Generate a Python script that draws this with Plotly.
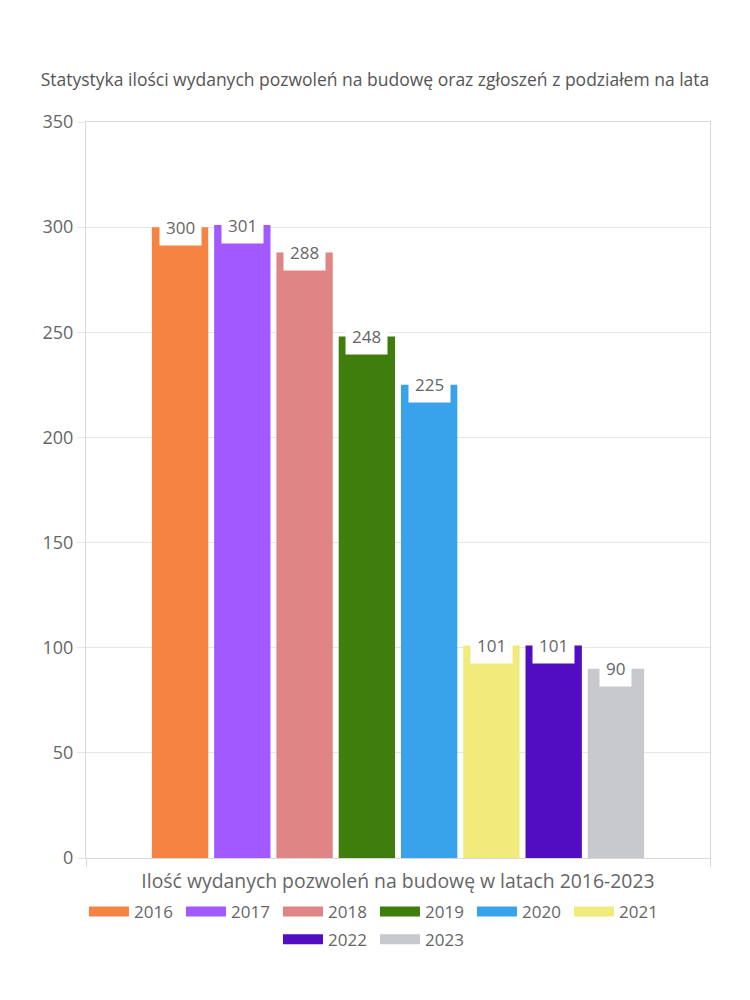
import plotly.graph_objects as go

years = ["2016", "2017", "2018", "2019", "2020", "2021", "2022", "2023"]
values = [300, 301, 288, 248, 225, 101, 101, 90]
colors = ["#F58442", "#A259FF", "#E08585", "#3F7D0C", "#38A3EB", "#F0EB7A", "#520DC2", "#C8C9CD"]
legend_row = ["legend", "legend", "legend", "legend", "legend", "legend", "legend2", "legend2"]
y_ticks = [0, 50, 100, 150, 200, 250, 300, 350]

title_text = "Statystyka ilości wydanych pozwoleń na budowę oraz zgłoszeń z podziałem na lata"
x_title = "Ilość wydanych pozwoleń na budowę w latach 2016-2023"

FONT = "'Open Sans', 'Noto Sans', sans-serif"
TXT = "#666666"

fig = go.Figure()
for i, (yr, v, c, lg) in enumerate(zip(years, values, colors, legend_row)):
    fig.add_trace(go.Bar(
        x=[i], y=[v], name=yr, marker=dict(color=c, line=dict(width=0)),
        width=0.905, hoverinfo="y", showlegend=False, legendgroup=yr,
    ))
    # legend entry drawn as a thick line swatch (wide rectangle like the reference)
    fig.add_trace(go.Scatter(
        x=[None], y=[None], mode="lines", name=yr, legendgroup=yr, legend=lg,
        line=dict(color=c, width=17), hoverinfo="skip",
    ))
    fig.add_annotation(
        x=i, y=v, xref="x", yref="y", text=str(v), showarrow=False,
        yanchor="middle", xanchor="center",
        bgcolor="white", borderpad=6,
        font=dict(family=FONT, size=17, color=TXT),
    )

leg_common = dict(orientation="h", x=0.4631, xanchor="center", yanchor="middle",
                  font=dict(family=FONT, size=17, color=TXT), itemwidth=40,
                  entrywidth=42, traceorder="normal")

fig.update_layout(
    width=750, height=1000,
    margin=dict(l=86, r=40, t=122, b=142),
    paper_bgcolor="white", plot_bgcolor="white",
    font=dict(family=FONT, color=TXT),
    title=dict(text=title_text, x=0.5, xanchor="center", y=0.92, yanchor="middle",
               font=dict(family=FONT, size=17.5, color="#555555")),
    barmode="overlay",
    showlegend=True,
    legend=dict(y=-0.0734, **leg_common),
    legend2=dict(y=-0.111, **leg_common),
)
fig.update_xaxes(
    range=[-1.51, 8.51], showgrid=False, zeroline=False,
    showline=True, linecolor="#d9d9d9", linewidth=1, mirror=True,
    tickvals=[-1.51, 8.51], showticklabels=False, ticks="outside", ticklen=8, tickcolor="#d9d9d9",
    title=dict(text=x_title, font=dict(family=FONT, size=19.4, color=TXT), standoff=8),
)
fig.update_yaxes(
    range=[0, 350], tickvals=y_ticks, showgrid=True, gridcolor="#e6e6e6", zeroline=False,
    showline=True, linecolor="#d9d9d9", linewidth=1, mirror=True,
    ticks="outside", ticklen=8, tickcolor="#e6e6e6",
    tickfont=dict(family=FONT, size=18, color=TXT),
)

fig.write_html("out.html")
